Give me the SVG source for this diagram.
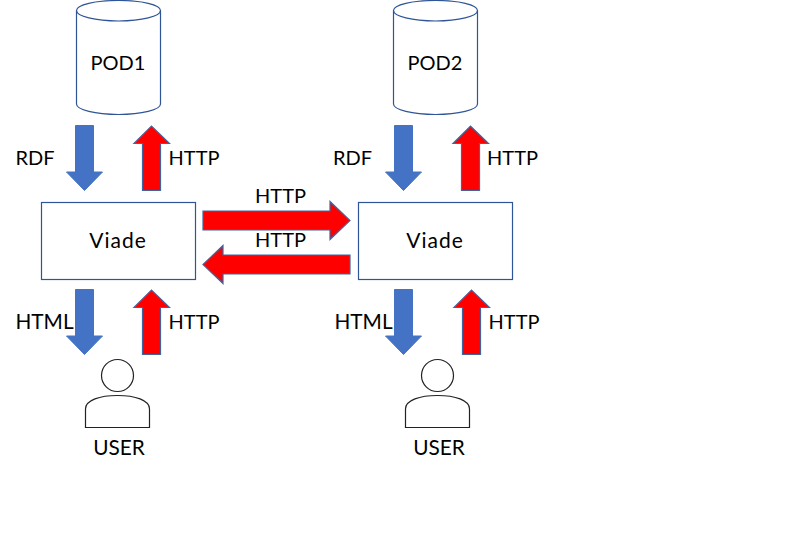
<svg xmlns="http://www.w3.org/2000/svg" width="799" height="559" viewBox="0 0 799 559">
<style>
text{font-family:"Lato","Open Sans",sans-serif;font-size:20px;fill:#000;text-anchor:middle}
text.v{font-size:21px;letter-spacing:1px}
text.w{font-size:20.800px}
.s{fill:#fff;stroke:#2f5597;stroke-width:1.2}
.b{fill:#4472c4;stroke:#4472c4;stroke-width:1}
.r{fill:#f00;stroke:#41659f;stroke-width:1.2}
.u{fill:#fff;stroke:#222;stroke-width:1.2}
</style>
<defs>
<g id="cyl"><path class="s" d="M76.500 10.500C76.500 4.700 95.300 0.500 118.500 0.500S160.500 4.700 160.500 10.500V104C160.500 109.800 141.700 114.500 118.500 114.500S76.500 109.800 76.500 104Z"/><path class="s" style="fill:none" d="M76.500 10.500C76.500 16.300 95.300 21 118.500 21S160.500 16.300 160.500 10.500"/></g>
<path id="dn" d="M75.500 125.500H93.500V172H102.500L84.500 190.500L66.500 172H75.500Z"/>
<path id="up" d="M142.500 190.500V143.500H134L151.500 126L169.500 143.500H160.500V190.500Z"/>
<g id="usr"><circle class="u" cx="117.500" cy="375.500" r="16"/><path class="u" d="M85.500 427.500V409C85.500 400 100 395.500 117.500 395.500S149.500 400 149.500 409V427.500Z"/></g>
</defs>
<g id="connectors">
<use href="#dn" class="b"/><use href="#up" class="r"/>
<use href="#dn" class="b" y="164"/><use href="#up" class="r" y="164"/>
<use href="#dn" class="b" x="319"/><use href="#up" class="r" x="319"/>
<use href="#dn" class="b" x="319" y="164"/><use href="#up" class="r" x="320" y="164"/>
<path class="r" d="M203 211H330V201.500L350 220.500L330 239.500V230H203Z"/>
<path class="r" d="M350 255H223V245.500L203 264.500L223 283.500V274H350Z"/>
</g>
<g id="pod1"><use href="#cyl"/><text x="118" y="70">POD1</text></g>
<g id="pod2"><use href="#cyl" x="317"/><text x="435" y="70">POD2</text></g>
<g id="viade1"><rect class="s" x="41.500" y="202.500" width="154" height="77"/><text class="v" x="118" y="248">Viade</text></g>
<g id="viade2"><rect class="s" x="358.500" y="202.500" width="154" height="77"/><text class="v" x="435" y="248">Viade</text></g>
<g id="user1"><use href="#usr"/><text class="w" x="119" y="455">USER</text></g>
<g id="user2"><use href="#usr" x="320"/><text class="w" x="439" y="455">USER</text></g>
<g id="labels">
<text x="35" y="165">RDF</text><text x="194" y="165">HTTP</text>
<text x="352.500" y="165">RDF</text><text x="512.500" y="165">HTTP</text>
<text class="w" x="44.500" y="329">HTML</text><text x="194" y="329">HTTP</text>
<text class="w" x="363.500" y="329">HTML</text><text x="514" y="329">HTTP</text>
<text x="280.500" y="203">HTTP</text><text x="280.500" y="247">HTTP</text>
</g>
</svg>
